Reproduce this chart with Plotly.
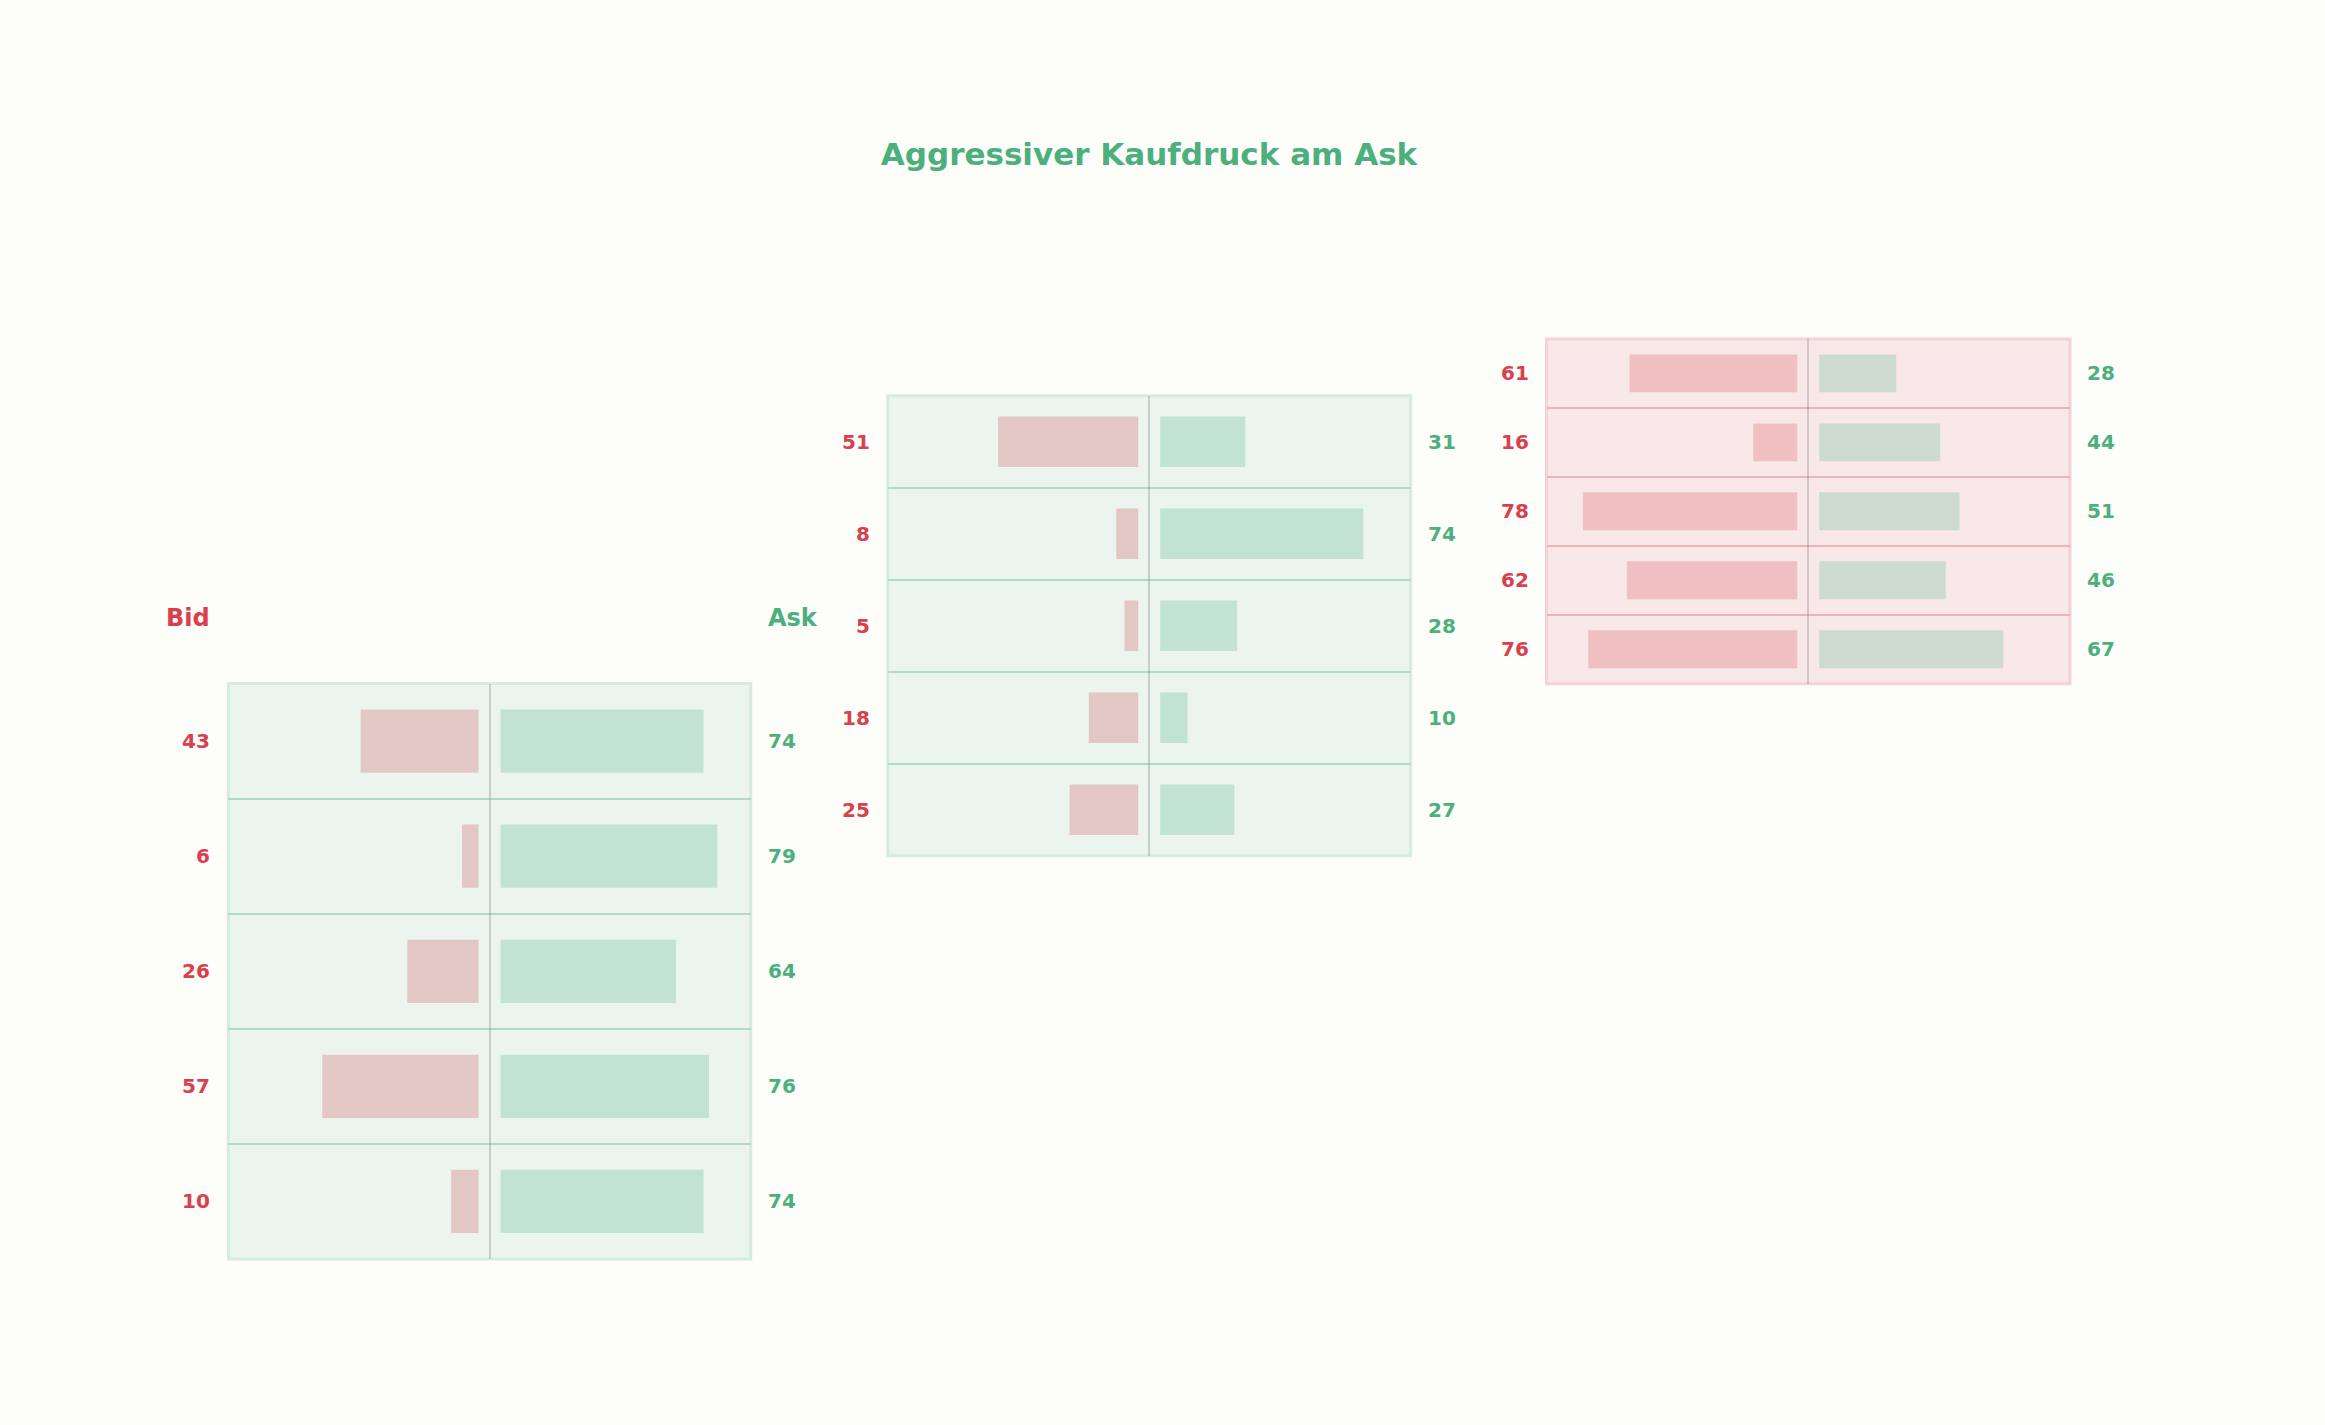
import plotly.graph_objects as go

# ---- data ----
title_text = "Aggressiver Kaufdruck am Ask"
bid_header = "Bid"
ask_header = "Ask"

p1_bid = [43, 6, 26, 57, 10]
p1_ask = [74, 79, 64, 76, 74]
p2_bid = [51, 8, 5, 18, 25]
p2_ask = [31, 74, 28, 10, 27]
p3_bid = [61, 16, 78, 62, 76]
p3_ask = [28, 44, 51, 46, 67]

W, H = 2325, 1425
RED = "#d9404f"
GREEN = "#4caf7e"
PAGE = "#fdfdf9"
GAP = 4
XR = 95.2

panels = [
    dict(bid=p1_bid, ask=p1_ask, box=(228.4, 750.7, 683.6, 1259.0),
         bg="#ebf5ee", line="#b2dbc6", edge="#d6ece0",
         bidc="#e2c7c5", askc="#c3e3d2", headers=True),
    dict(bid=p2_bid, ask=p2_ask, box=(887.8, 1410.6, 395.8, 855.8),
         bg="#ebf5ee", line="#b2dbc6", edge="#d6ece0",
         bidc="#e2c7c5", askc="#c3e3d2", headers=False),
    dict(bid=p3_bid, ask=p3_ask, box=(1546.5, 2070.0, 338.9, 683.7),
         bg="#f9e8e8", line="#ecb4b9", edge="#f3d3d6",
         bidc="#f0bfc1", askc="#cddbcf", headers=False),
]

fig = go.Figure()
layout = dict(
    width=W, height=H, margin=dict(l=0, r=0, t=0, b=0),
    paper_bgcolor=PAGE, plot_bgcolor="rgba(0,0,0,0)",
    showlegend=False, bargap=0.45, barmode="overlay",
    font=dict(family="DejaVu Sans", size=20),
    title=dict(text="<b>" + title_text + "</b>", x=1149 / W, xanchor="center",
               y=1 - 154 / H, yanchor="middle",
               font=dict(family="DejaVu Sans", size=31, color=GREEN)),
)
shapes = []
annotations = []

for i, p in enumerate(panels):
    k = "" if i == 0 else str(i + 1)
    xa, ya = "x" + k, "y" + k
    x0, x1, y0, y1 = p["box"]
    n = len(p["bid"])
    rows = list(range(n))
    fig.add_trace(go.Bar(
        y=rows, x=[-v for v in p["bid"]], base=[-GAP] * n, orientation="h",
        marker=dict(color=p["bidc"], line=dict(width=0)), width=0.55,
        xaxis=xa, yaxis=ya, hoverinfo="skip"))
    fig.add_trace(go.Bar(
        y=rows, x=p["ask"], base=[GAP] * n, orientation="h",
        marker=dict(color=p["askc"], line=dict(width=0)), width=0.55,
        xaxis=xa, yaxis=ya, hoverinfo="skip"))
    layout["xaxis" + k] = dict(
        domain=[x0 / W, x1 / W], range=[-XR, XR], anchor=ya,
        showgrid=False, showticklabels=False, ticks="",
        zeroline=True, zerolinecolor="rgba(110,120,115,0.3)", zerolinewidth=2,
        fixedrange=True)
    layout["yaxis" + k] = dict(
        domain=[1 - y1 / H, 1 - y0 / H], range=[n - 0.5, -0.5], anchor=xa,
        tickvals=[r - 0.5 for r in range(n + 1)], showticklabels=False, ticks="",
        showgrid=True, gridcolor=p["line"], gridwidth=2, zeroline=False,
        fixedrange=True)
    shapes.append(dict(type="rect", xref=xa + " domain", yref=ya + " domain",
                       x0=0, x1=1, y0=0, y1=1, fillcolor=p["bg"],
                       line=dict(color=p["edge"], width=3), layer="below"))
    for r in range(n):
        annotations.append(dict(
            text="<b>%d</b>" % p["bid"][r], xref=xa + " domain", x=0, xanchor="right",
            xshift=-16, yref=ya, y=r, yanchor="middle", showarrow=False,
            font=dict(color=RED, size=20, family="DejaVu Sans")))
        annotations.append(dict(
            text="<b>%d</b>" % p["ask"][r], xref=xa + " domain", x=1, xanchor="left",
            xshift=15, yref=ya, y=r, yanchor="middle", showarrow=False,
            font=dict(color=GREEN, size=20, family="DejaVu Sans")))
    if p["headers"]:
        annotations.append(dict(
            text="<b>" + bid_header + "</b>", xref=xa + " domain", x=0, xanchor="right",
            xshift=-16, yref=ya + " domain", y=1, yanchor="middle", yshift=66,
            showarrow=False, font=dict(color=RED, size=24, family="DejaVu Sans")))
        annotations.append(dict(
            text="<b>" + ask_header + "</b>", xref=xa + " domain", x=1, xanchor="left",
            xshift=15, yref=ya + " domain", y=1, yanchor="middle", yshift=66,
            showarrow=False, font=dict(color=GREEN, size=24, family="DejaVu Sans")))

layout["shapes"] = shapes
layout["annotations"] = annotations
fig.update_layout(**layout)
fig.write_html("out.html", config={"displayModeBar": False},
               post_script="document.body.style.margin='0';"
                           "document.body.style.background='%s';" % PAGE)
